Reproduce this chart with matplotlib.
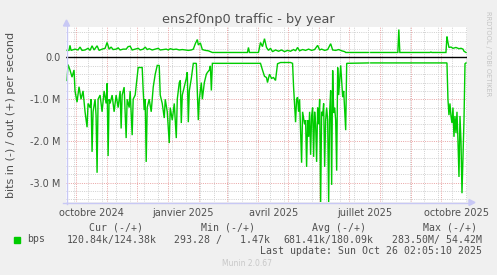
import numpy as np
import matplotlib
matplotlib.use('Agg')
import matplotlib.pyplot as plt
import matplotlib.dates as mdates
from matplotlib.patches import Polygon
from matplotlib.lines import Line2D

# ---------------- data (Mbit/s) ----------------
start = np.datetime64('2024-09-21T12:00')
end = np.datetime64('2025-10-27T12:00')

# "in" traffic (drawn negative), day offsets from start
in_day = [1, 2, 4, 6, 8, 9, 11, 13, 15, 17,
          19, 21, 22, 24, 25, 26, 27, 29, 30, 31,
          32, 34, 36, 38, 40, 41, 42, 43, 44, 46,
          48, 50, 52, 54, 55, 56, 58, 60, 61, 63,
          64, 66, 67, 69, 71, 72, 74, 76, 77, 78,
          79, 80, 81, 83, 85, 87, 89, 91, 93, 94,
          96, 98, 99, 101, 103, 104, 106, 108, 110, 111,
          113, 114, 115, 116, 118, 120, 121, 122, 123, 125,
          127, 130, 132, 133, 135, 136, 138, 140, 141, 143,
          144, 145, 146, 194, 196, 198, 200, 201, 203, 205,
          207, 209, 211, 214, 224, 226, 227, 229, 230, 231,
          232, 233, 234, 235, 236, 238, 239, 240, 241, 242,
          243, 244, 245, 246, 247, 248, 249, 250, 251, 252,
          253, 254, 255, 256, 257, 258, 259, 260, 261, 262,
          263, 264, 265, 266, 267, 268, 269, 270, 271, 272,
          274, 276, 277, 279, 280, 302, 303, 304, 380, 381,
          382, 383, 384, 385, 386, 387, 388, 389, 390, 391,
          392, 393, 394, 395, 396, 397, 398, 399]
in_val = [0.55, 0.17, 0.30, 0.47, 0.30, 0.80, 1.07, 0.70, 1.00, 0.80,
          1.30, 1.67, 1.10, 1.20, 1.00, 2.26, 1.30, 1.00, 1.40, 2.76,
          1.00, 0.90, 1.30, 0.80, 1.10, 0.62, 2.36, 1.00, 1.10, 0.90,
          1.30, 0.90, 1.20, 0.80, 1.70, 0.90, 0.71, 1.93, 1.00, 1.20,
          0.80, 1.86, 1.00, 0.90, 0.47, 0.24, 0.24, 0.24, 0.80, 1.26,
          1.00, 2.50, 1.20, 1.00, 1.30, 0.71, 0.40, 0.19, 0.19, 0.90,
          1.10, 1.45, 1.00, 1.30, 2.05, 1.20, 1.50, 1.10, 1.93, 1.00,
          0.60, 0.55, 1.57, 0.90, 0.70, 0.50, 0.35, 1.55, 0.80, 0.50,
          0.14, 0.14, 1.50, 1.00, 0.60, 1.00, 0.60, 0.40, 0.36, 0.30,
          0.20, 0.79, 0.14, 0.14, 0.30, 0.45, 0.48, 0.60, 0.40, 0.50,
          0.48, 0.55, 0.15, 0.12, 0.12, 0.14, 0.70, 1.55, 1.00, 0.95,
          1.30, 1.00, 1.80, 2.52, 1.30, 1.60, 1.50, 2.62, 1.50, 1.90,
          1.30, 2.33, 1.40, 1.20, 2.38, 1.30, 1.60, 2.50, 1.20, 1.60,
          1.00, 3.48, 1.30, 1.40, 1.10, 2.62, 1.50, 1.20, 1.50, 3.48,
          1.30, 0.79, 3.05, 0.31, 1.33, 1.20, 1.50, 2.71, 0.24, 0.90,
          0.19, 0.95, 0.80, 1.74, 0.14, 0.13, np.nan, 0.13, 0.13, 1.00,
          1.38, 1.10, 1.40, 1.57, 1.20, 1.90, 1.40, 1.81, 1.30, 2.00,
          2.86, 1.40, 2.00, 3.25, 2.40, 1.50, 0.15, 0.13]

# "out" traffic (drawn positive)
out_day = [1, 3, 4, 5, 9, 12, 14, 16, 19, 22,
           24, 26, 28, 31, 33, 36, 39, 41, 43, 45,
           47, 50, 52, 54, 57, 60, 62, 64, 66, 69,
           72, 74, 77, 79, 81, 83, 86, 89, 92, 94,
           97, 100, 102, 104, 107, 110, 113, 116, 119, 122,
           125, 127, 129, 131, 132, 134, 136, 139, 142, 144,
           146, 181, 182, 183, 192, 194, 196, 198, 200, 202,
           204, 206, 209, 212, 215, 218, 221, 224, 227, 229,
           231, 233, 236, 239, 242, 245, 248, 251, 253, 255,
           258, 261, 264, 266, 269, 272, 275, 278, 279, 302,
           303, 304, 331, 332, 333, 363, 364, 365, 379, 380,
           381, 382, 384, 386, 389, 392, 394, 396, 397, 399]
out_val = [0.17, 0.17, 0.29, 0.17, 0.20, 0.18, 0.25, 0.17, 0.18, 0.22,
           0.17, 0.28, 0.18, 0.28, 0.17, 0.20, 0.22, 0.36, 0.20, 0.25,
           0.19, 0.20, 0.23, 0.18, 0.20, 0.20, 0.26, 0.27, 0.18, 0.20,
           0.22, 0.18, 0.20, 0.25, 0.19, 0.21, 0.18, 0.20, 0.22, 0.18,
           0.19, 0.20, 0.18, 0.21, 0.19, 0.20, 0.18, 0.19, 0.18, 0.17,
           0.18, 0.20, 0.33, 0.43, 0.30, 0.35, 0.19, 0.17, 0.16, 0.14,
           0.12, 0.12, 0.24, 0.12, 0.12, 0.36, 0.26, 0.45, 0.24, 0.17,
           0.22, 0.14, 0.18, 0.15, 0.18, 0.14, 0.17, 0.15, 0.19, 0.16,
           0.24, 0.16, 0.19, 0.17, 0.20, 0.17, 0.19, 0.29, 0.18, 0.20,
           0.17, 0.19, 0.33, 0.18, 0.17, 0.19, 0.16, 0.14, 0.12, 0.12,
           np.nan, 0.12, 0.12, 0.67, 0.12, 0.12, 0.13, 0.12, 0.12, 0.50,
           0.36, 0.24, 0.25, 0.22, 0.24, 0.21, 0.22, 0.20, 0.15, 0.12]

ytick_vals = [0.0, -1.0, -2.0, -3.0]
ytick_labels = ['0.0', '-1.0 M', '-2.0 M', '-3.0 M']
xtick_dates = ['2024-10-16T12:00', '2025-01-16T12:00', '2025-04-16T12:00',
               '2025-07-16T12:00', '2025-10-16T12:00']
xtick_labels = ['octobre 2024', 'janvier 2025', 'avril 2025',
                'juillet 2025', 'octobre 2025']

legend_headers = ['Cur (-/+)', 'Min (-/+)', 'Avg (-/+)', 'Max (-/+)']
legend_values = ['120.84k/124.38k', '293.28 /   1.47k',
                 '681.41k/180.09k', '283.50M/ 54.42M']
last_update = 'Last update: Sun Oct 26 02:05:10 2025'

# ---------------- figure ----------------
W, H = 497, 275
GREEN = '#00CC00'
TXT = '#505050'
fig = plt.figure(figsize=(W / 100, H / 100), dpi=100, facecolor='#F0F0F0')

def fx(px):
    return px / W

def fy(py):
    return 1 - py / H

L, R, T, B = 66, 467, 27, 202
ax = fig.add_axes([fx(L), fy(B), (R - L) / W, (B - T) / H])
ax.set_facecolor('white')
for s in ax.spines.values():
    s.set_visible(False)

def to_t(days):
    return start + (np.array(days) * 24 * 3600).astype('timedelta64[s]')

ax.set_xlim(start, end - np.timedelta64(1, 'D'))
ax.set_ylim(-3.46, 0.73)

# grid
minor_col = '#d2d2d2'
major_col = '#eaa8a8'
dash = dict(lw=0.72, dashes=(1, 1.2), zorder=1)
for v in np.arange(-3.4, 0.7, 0.2):
    r = round(v, 1)
    if abs(r - round(r)) < 1e-6:
        continue
    ax.axhline(r, color=minor_col, **dash)
for r in [-1, -2, -3]:
    ax.axhline(r, color=major_col, **dash)

sundays = np.arange(np.datetime64('2024-09-29'), np.datetime64('2025-10-27'),
                    np.timedelta64(14, 'D'))
for d in sundays:
    ax.axvline(d, color=minor_col, **dash)
months = np.arange(np.datetime64('2024-10'), np.datetime64('2025-11'),
                   np.timedelta64(1, 'M')).astype('datetime64[D]')
for d in months:
    ax.axvline(d, color=major_col, **dash)

# data
ax.plot(to_t(in_day), -np.array(in_val), color=GREEN, lw=1.0, zorder=3,
        solid_joinstyle='miter')
ax.plot(to_t(out_day), np.array(out_val), color=GREEN, lw=1.0, zorder=3,
        solid_joinstyle='miter')
ax.axhline(0, color='black', lw=1.0, zorder=4)

# ticks
ax.set_yticks(ytick_vals)
ax.set_yticklabels(ytick_labels)
ax.set_xticks([np.datetime64(d) for d in xtick_dates])
ax.set_xticklabels(xtick_labels)
ax.tick_params(axis='both', length=0, labelsize=7, labelcolor=TXT)
ax.tick_params(axis='y', pad=4)
ax.tick_params(axis='x', pad=4)

# axis lines with arrows
acol = '#c8c8f5'
fig.add_artist(Line2D([fx(L + 0.5), fx(L + 0.5)], [fy(B + 2), fy(23)],
                      color=acol, lw=1.0))
fig.add_artist(Line2D([fx(L - 3), fx(471)], [fy(B + 0.5), fy(B + 0.5)],
                      color=acol, lw=1.0))
fig.add_artist(Polygon([[fx(L - 2.5), fy(26)], [fx(L + 3.5), fy(26)],
                        [fx(L + 0.5), fy(20)]], closed=True, color=acol))
fig.add_artist(Polygon([[fx(469), fy(B - 2.5)], [fx(469), fy(B + 3.5)],
                        [fx(475), fy(B + 0.5)]], closed=True, color=acol))

# texts
fig.text(fx(248), fy(23), 'ens2f0np0 traffic - by year', ha='center',
         va='baseline', fontsize=9.3, color=TXT)
fig.text(fx(11), fy(115), 'bits in (-) / out (+) per second', rotation=90,
         ha='center', va='center', fontsize=8, color=TXT)
fig.text(fx(488), fy(54), 'RRDTOOL / TOBI OETIKER', rotation=270,
         ha='center', va='center', fontsize=4.8, color='#c4c4c4')

mono = dict(family='DejaVu Sans Mono', fontsize=7.1, color=TXT, va='center')
for x, s in zip([89, 201, 312, 423], legend_headers):
    fig.text(fx(x), fy(228), s, ha='left', **mono)
for x, s in zip([67, 174, 283, 392], legend_values):
    fig.text(fx(x), fy(239.5), s, ha='left', **mono)
fig.text(fx(27), fy(239.5), 'bps', ha='left', **mono)
fig.text(fx(482), fy(251), last_update, ha='right', **mono)
fig.add_artist(Polygon([[fx(14), fy(237)], [fx(19.5), fy(237)],
                        [fx(19.5), fy(242.5)], [fx(14), fy(242.5)]],
                       closed=True, color=GREEN))
fig.text(fx(247), fy(264), 'Munin 2.0.67', ha='center', va='center',
         fontsize=5.5, color='#c8c8c8')

fig.savefig('out.png', dpi=100, facecolor=fig.get_facecolor())
